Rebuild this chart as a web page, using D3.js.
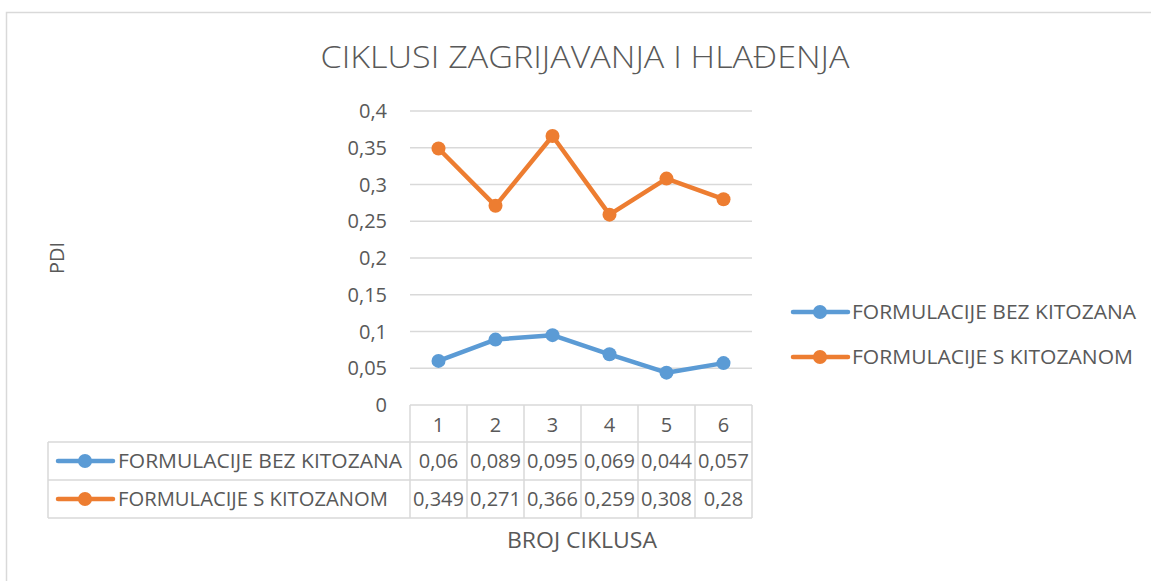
<!DOCTYPE html>
<html><head><meta charset="utf-8">
<script src="https://cdn.jsdelivr.net/npm/d3@7"></script>
<style>
body{margin:0;background:#fff;}
text{font-family:"Open Sans",sans-serif;fill:#595959;}
</style></head>
<body>
<svg id="c" width="1151" height="581"></svg>
<script>
const categories = ["1","2","3","4","5","6"];
const seriesNames = ["FORMULACIJE BEZ KITOZANA","FORMULACIJE S KITOZANOM"];
const bezKitozana = [0.06,0.089,0.095,0.069,0.044,0.057];
const sKitozanom = [0.349,0.271,0.366,0.259,0.308,0.28];
const valueLabels = [["0,06","0,089","0,095","0,069","0,044","0,057"],["0,349","0,271","0,366","0,259","0,308","0,28"]];
const yTicks = [0,0.05,0.1,0.15,0.2,0.25,0.3,0.35,0.4];
const colors = ["#5B9BD5","#ED7D31"];
const title = "CIKLUSI ZAGRIJAVANJA I HLAĐENJA";
const yTitle = "PDI";
const xTitle = "BROJ CIKLUSA";

const svg = d3.select("#c");
svg.append("rect").attr("x",6.5).attr("y",12.5).attr("width",1160).attr("height",600)
  .attr("fill","none").attr("stroke","#D9D9D9").attr("stroke-width",1.5);

const x = d3.scaleBand().domain(categories).range([410,752]);
const y = d3.scaleLinear().domain([0,0.4]).range([405,111]);
const FS = 20;

svg.append("text").attr("x",585).attr("y",68).attr("text-anchor","middle")
  .attr("font-size",32).attr("font-weight",300).attr("textLength",529).attr("lengthAdjust","spacingAndGlyphs").text(title);

svg.append("g").selectAll("line").data(yTicks.slice(1)).join("line")
  .attr("x1",410).attr("x2",752).attr("y1",d=>y(d)).attr("y2",d=>y(d))
  .attr("stroke","#D9D9D9").attr("stroke-width",1.5);

const fmt = d => String(d).replace(".",",");
svg.append("g").selectAll("text").data(yTicks).join("text")
  .attr("x",387).attr("y",d=>y(d)+7).attr("text-anchor","end").attr("font-size",FS).text(fmt);

const tg = svg.append("g").attr("stroke","#D9D9D9").attr("stroke-width",1.5);
const colEdges = categories.map(c=>x(c)).concat([752]);
tg.selectAll("line.v").data(colEdges).join("line").attr("class","v")
  .attr("x1",d=>d).attr("x2",d=>d).attr("y1",405).attr("y2",518);
tg.append("line").attr("x1",410).attr("x2",752).attr("y1",405).attr("y2",405);
[442,480,518].forEach(yy=>tg.append("line").attr("x1",48).attr("x2",752).attr("y1",yy).attr("y2",yy));
tg.append("line").attr("x1",48).attr("x2",48).attr("y1",442).attr("y2",518);

svg.append("g").selectAll("text").data(categories).join("text")
  .attr("x",d=>x(d)+x.bandwidth()/2).attr("y",432).attr("text-anchor","middle").attr("font-size",FS).text(d=>d);

const rowY = [461,499];
valueLabels.forEach((row,i)=>{
  svg.append("g").selectAll("text").data(row).join("text")
    .attr("x",(d,j)=>x(categories[j])+x.bandwidth()/2).attr("y",rowY[i]+7)
    .attr("text-anchor","middle").attr("font-size",FS).text(d=>d);
  svg.append("line").attr("x1",58).attr("x2",113).attr("y1",rowY[i]).attr("y2",rowY[i])
    .attr("stroke",colors[i]).attr("stroke-width",4.5).attr("stroke-linecap","round");
  svg.append("circle").attr("cx",85).attr("cy",rowY[i]).attr("r",7).attr("fill",colors[i]);
  svg.append("text").attr("x",118).attr("y",rowY[i]+7).attr("font-size",FS)
    .attr("textLength",i==0?284:270).attr("lengthAdjust","spacingAndGlyphs").text(seriesNames[i]);
});

const data = [bezKitozana, sKitozanom];
const line = d3.line().x((d,i)=>x(categories[i])+x.bandwidth()/2).y(d=>y(d));
data.forEach((s,i)=>{
  svg.append("path").attr("d",line(s)).attr("fill","none").attr("stroke",colors[i])
    .attr("stroke-width",4.5).attr("stroke-linejoin","round").attr("stroke-linecap","round");
  svg.append("g").selectAll("circle").data(s).join("circle")
    .attr("cx",(d,j)=>x(categories[j])+x.bandwidth()/2).attr("cy",d=>y(d)).attr("r",7).attr("fill",colors[i]);
});

const legY = [312,357];
seriesNames.forEach((n,i)=>{
  svg.append("line").attr("x1",793).attr("x2",848).attr("y1",legY[i]).attr("y2",legY[i])
    .attr("stroke",colors[i]).attr("stroke-width",4.5).attr("stroke-linecap","round");
  svg.append("circle").attr("cx",820).attr("cy",legY[i]).attr("r",7).attr("fill",colors[i]);
  svg.append("text").attr("x",852).attr("y",legY[i]+7).attr("font-size",FS)
    .attr("textLength",i==0?284:281).attr("lengthAdjust","spacingAndGlyphs").text(n);
});

svg.append("text").attr("transform","translate(64,258) rotate(-90)").attr("text-anchor","middle").attr("font-size",FS).text(yTitle);
svg.append("text").attr("x",582).attr("y",548).attr("text-anchor","middle").attr("font-size",22)
  .attr("textLength",150).attr("lengthAdjust","spacingAndGlyphs").text(xTitle);
</script>
</body></html>
